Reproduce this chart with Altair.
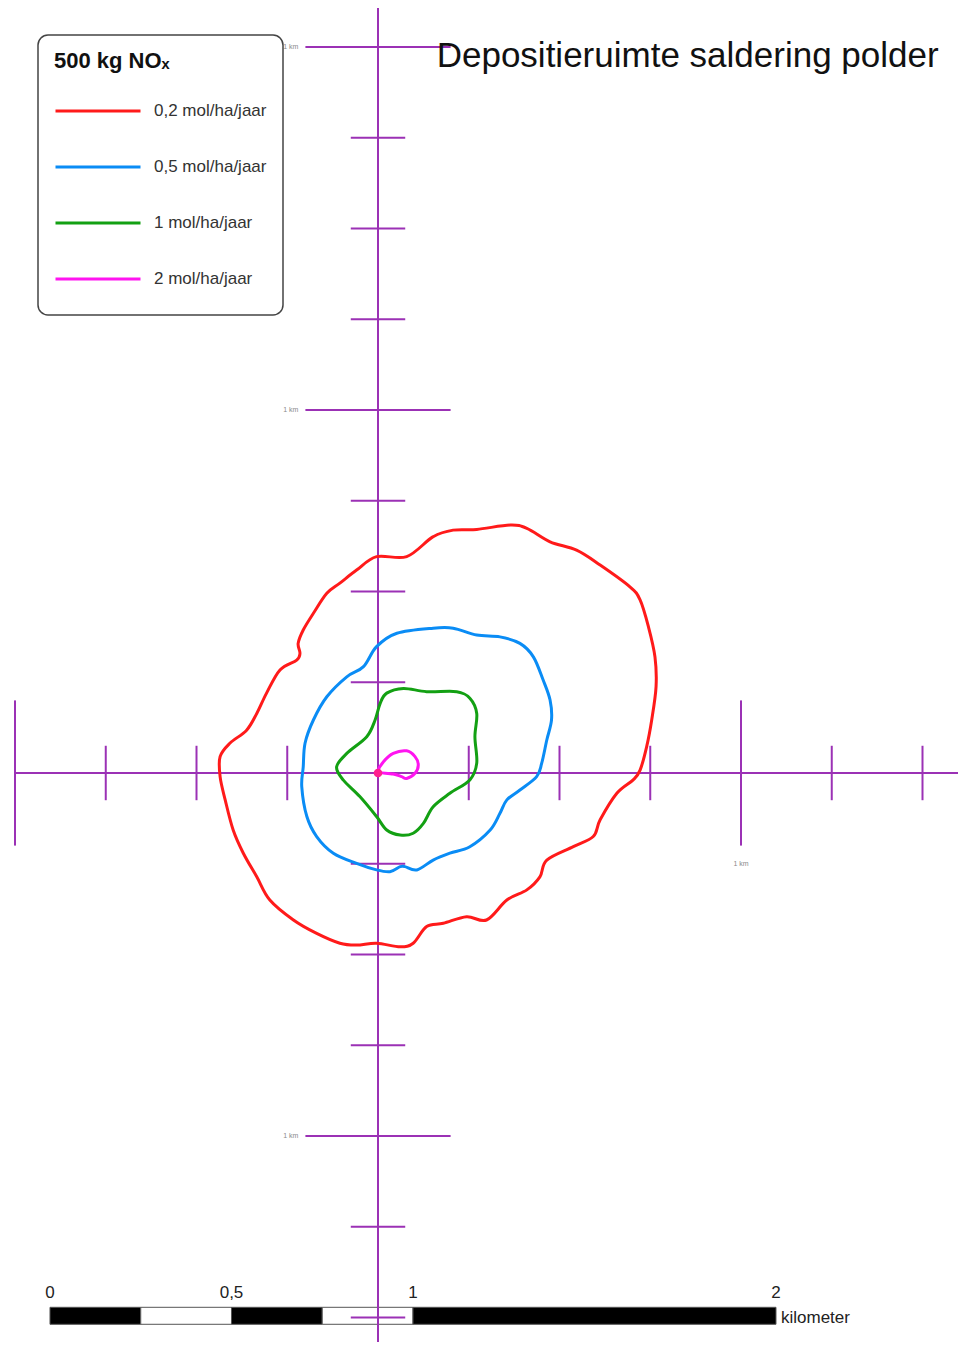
import altair as alt
import pandas as pd

# ---------------- data ----------------
TITLE = "Depositieruimte saldering polder"
LEGEND_TITLE = "500 kg NOₓ"
LEVEL_LABELS = ["0,2 mol/ha/jaar", "0,5 mol/ha/jaar", "1 mol/ha/jaar", "2 mol/ha/jaar"]
LEVEL_COLORS = ["#ff1a1a", "#0a8cf5", "#13a013", "#ff14f0"]

# contour coordinates in metres relative to the source (x east, y north)
RED_X = [79, 152, 207, 272, 364, 410, 474, 547, 612, 694, 722, 745, 763, 766, 754,
         740, 722, 703, 658, 612, 593, 538, 465, 446, 410, 355, 299, 244, 180, 134,
         97, 61, -4, -59, -105, -169, -233, -298, -334, -371, -399, -421, -435, -435,
         -408, -362, -334, -307, -270, -224, -215, -220, -206, -178, -141, -105, -59, -4]
RED_Y = [596, 651, 669, 671, 683, 674, 637, 614, 573, 513, 477, 403, 320, 238, 146,
         72, 8, -19, -56, -129, -175, -203, -240, -286, -322, -350, -405, -396, -414, -423,
         -469, -479, -469, -474, -469, -442, -405, -350, -286, -221, -157, -74, -10, 45,
         82, 118, 164, 220, 284, 311, 330, 357, 394, 440, 495, 523, 559, 596]

BLUE_X = [-4, 52, 152, 207, 272, 336, 391, 428, 455, 474, 478, 465, 451, 437, 391,
          355, 336, 309, 253, 198, 152, 107, 74, 61, 33, -4, -59, -123, -169, -196,
          -210, -206, -201, -178, -141, -86, -40]
BLUE_Y = [348, 385, 399, 399, 380, 375, 357, 320, 256, 201, 146, 91, 27, -10, -47,
          -74, -111, -157, -203, -221, -240, -267, -258, -258, -272, -267, -249, -221, -175, -120,
          -38, 17, 82, 146, 210, 265, 293]

GREEN_X = [24, 70, 134, 217, 253, 272, 267, 272, 253, 198, 152, 125, 97, 61, 24,
           -4, -50, -96, -114, -86, -31, -8, 6]
GREEN_Y = [220, 233, 224, 224, 206, 164, 100, 27, -19, -56, -93, -139, -166, -171, -157,
           -120, -65, -19, 17, 54, 100, 146, 192]

MAGENTA_X = [-1, 15, 42, 79, 102, 111, 102, 79, 65, 42, 6]
MAGENTA_Y = [4, 31, 54, 61, 45, 22, -1, -15, -10, -3, 1]

SOURCE_X = [0]
SOURCE_Y = [0]

X_TICKS = [-1000, -750, -500, -250, 250, 500, 750, 1000, 1250, 1500]
Y_TICKS = [2000, 1750, 1500, 1250, 1000, 750, 500, 250, -250, -500, -750, -1000, -1250, -1500]
AXIS_X_EXTENT = [-1000, 1600]
AXIS_Y_EXTENT = [-1570, 2110]
KM_LABEL = "1 km"

SCALE_SEGMENTS = [0, 250, 500, 750, 1000, 2000]
SCALE_TICKS = [0, 500, 1000, 2000]
SCALE_LABELS = ["0", "0,5", "1", "2"]
SCALE_UNIT = "kilometer"

# ---------------- layout / style ----------------
W, H = 950, 1334
X_DOMAIN = [-1019.3, 1597.8]
Y_DOMAIN = [-1567.5, 2107.4]
LONG_HALF = 200
SHORT_HALF = 75
SCALE_ORIGIN = -903.6
BAR_TOP, BAR_BOTTOM = -1471.9, -1518.7
BAR_LABEL_Y = -1447
UNIT_LABEL_Y = -1515
AXIS_COLOR = "#9b31b5"
FONT = "Liberation Sans"

XS = alt.Scale(domain=X_DOMAIN, nice=False, zero=False)
YS = alt.Scale(domain=Y_DOMAIN, nice=False, zero=False)


def X(field):
    return alt.X(field, type="quantitative", scale=XS, axis=None)


def Y(field):
    return alt.Y(field, type="quantitative", scale=YS, axis=None)


# contours table
rows = []
for label, xs, ys in zip(LEVEL_LABELS,
                         [RED_X, BLUE_X, GREEN_X, MAGENTA_X],
                         [RED_Y, BLUE_Y, GREEN_Y, MAGENTA_Y]):
    for i, (xv, yv) in enumerate(zip(xs, ys)):
        rows.append({"level": label, "ord": i, "x": xv, "y": yv})
contour_df = pd.DataFrame(rows)

# scale bar
seg_df = pd.DataFrame({
    "start": SCALE_SEGMENTS[:-1],
    "end": SCALE_SEGMENTS[1:],
    "fill": ["black" if i % 2 == 0 else "white" for i in range(len(SCALE_SEGMENTS) - 1)],
})
scalebar = alt.Chart(seg_df).transform_calculate(
    xs=f"datum.start + ({SCALE_ORIGIN})", xe=f"datum.end + ({SCALE_ORIGIN})",
    yt=f"{BAR_TOP}", yb=f"{BAR_BOTTOM}"
).mark_rect(stroke="#555555", strokeWidth=1).encode(
    x=X("xs"), x2="xe", y=Y("yt"), y2="yb",
    fill=alt.Fill("fill:N", scale=None),
)

scale_lab_df = pd.DataFrame({"km": SCALE_TICKS, "label": SCALE_LABELS})
scale_labels = alt.Chart(scale_lab_df).transform_calculate(
    xp=f"datum.km + ({SCALE_ORIGIN})", yp=f"{BAR_LABEL_Y}"
).mark_text(font=FONT, fontSize=17, color="#222222", align="center", baseline="alphabetic").encode(
    x=X("xp"), y=Y("yp"), text="label:N"
)

unit_df = pd.DataFrame({"km": [SCALE_SEGMENTS[-1]], "label": [SCALE_UNIT]})
unit_label = alt.Chart(unit_df).transform_calculate(
    xp=f"datum.km + ({SCALE_ORIGIN})", yp=f"{UNIT_LABEL_Y}"
).mark_text(font=FONT, fontSize=17, color="#222222", align="left", baseline="alphabetic", dx=5).encode(
    x=X("xp"), y=Y("yp"), text="label:N"
)

# axes
hline = alt.Chart(pd.DataFrame({"x0": [AXIS_X_EXTENT[0]], "x1": [AXIS_X_EXTENT[1]], "y0": [0]})).mark_rule(
    color=AXIS_COLOR, strokeWidth=2).encode(x=X("x0"), x2="x1", y=Y("y0"))
vline = alt.Chart(pd.DataFrame({"y0": [AXIS_Y_EXTENT[0]], "y1": [AXIS_Y_EXTENT[1]], "x0": [0]})).mark_rule(
    color=AXIS_COLOR, strokeWidth=2).encode(y=Y("y0"), y2="y1", x=X("x0"))

half_expr = f"datum.t % 1000 === 0 ? {LONG_HALF} : {SHORT_HALF}"
xticks = alt.Chart(pd.DataFrame({"t": X_TICKS})).transform_calculate(
    half=half_expr).transform_calculate(lo="-datum.half").mark_rule(
    color=AXIS_COLOR, strokeWidth=2).encode(x=X("t"), y=Y("lo"), y2="half:Q")
yticks = alt.Chart(pd.DataFrame({"t": Y_TICKS})).transform_calculate(
    half=half_expr).transform_calculate(lo="-datum.half").mark_rule(
    color=AXIS_COLOR, strokeWidth=2).encode(y=Y("t"), x=X("lo"), x2="half:Q")

ylabels = alt.Chart(pd.DataFrame({"t": Y_TICKS})).transform_filter(
    "datum.t % 1000 === 0").transform_calculate(
    xp=f"-{LONG_HALF}", label=f"'{KM_LABEL}'").mark_text(
    font=FONT, fontSize=7, color="#8a8a8a", align="right", baseline="middle", dx=-7).encode(
    x=X("xp"), y=Y("t"), text="label:N")
xlabels = alt.Chart(pd.DataFrame({"t": X_TICKS})).transform_filter(
    "datum.t % 1000 === 0 && datum.t > 0").transform_calculate(
    yp=f"-{LONG_HALF}", label=f"'{KM_LABEL}'").mark_text(
    font=FONT, fontSize=7, color="#8a8a8a", align="center", baseline="top", dy=14).encode(
    x=X("t"), y=Y("yp"), text="label:N")

# contours
contours = alt.Chart(contour_df).mark_line(interpolate="cardinal-closed", strokeWidth=3).encode(
    x=X("x"), y=Y("y"), order="ord:Q",
    color=alt.Color("level:N", scale=alt.Scale(domain=LEVEL_LABELS, range=LEVEL_COLORS),
                    legend=alt.Legend(
                        title=LEGEND_TITLE, orient="none", legendX=30, legendY=27,
                        direction="vertical", symbolType="stroke", symbolSize=7225,
                        symbolStrokeWidth=3, labelFont=FONT, labelFontSize=17,
                        labelColor="#333333", labelOffset=12, labelLimit=400,
                        titleFont=FONT, titleFontSize=22, titleFontWeight="bold",
                        titleColor="#111111", titlePadding=18, padding=16,
                        strokeColor="#444444", fillColor="white", cornerRadius=10,
                        clipHeight=40, rowPadding=16)),
)

source = alt.Chart(pd.DataFrame({"x": SOURCE_X, "y": SOURCE_Y})).mark_circle(
    size=75, color="#ff1f8f", opacity=1).encode(x=X("x"), y=Y("y"))

title = alt.Chart(pd.DataFrame({"t": [TITLE]})).mark_text(
    font=FONT, fontSize=35, color="#111111", align="left", baseline="alphabetic").encode(
    x=alt.value(428.7), y=alt.value(59.3), text="t:N")

chart = alt.layer(
    scalebar, scale_labels, unit_label,
    hline, vline, xticks, yticks, ylabels, xlabels,
    contours, source, title,
).properties(
    width=W, height=H, padding=0, autosize=alt.AutoSizeParams(type="none"),
).configure_view(stroke=None).configure_legend(strokeWidth=1.5)

chart.save("out.html", embed_options={"renderer": "svg", "actions": False})
